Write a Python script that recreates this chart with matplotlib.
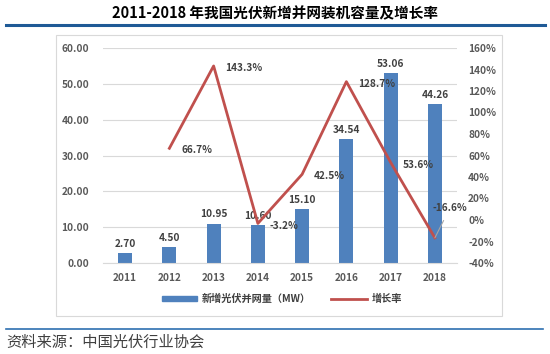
import matplotlib
matplotlib.use("Agg")
import matplotlib.pyplot as plt
from matplotlib.patches import Rectangle
from matplotlib.lines import Line2D
import numpy as np

plt.rcParams['font.family'] = ['Noto Sans CJK SC', 'DejaVu Sans']

years = ['2011', '2012', '2013', '2014', '2015', '2016', '2017', '2018']
capacity = [2.70, 4.50, 10.95, 10.60, 15.10, 34.54, 53.06, 44.26]
growth_years = ['2012', '2013', '2014', '2015', '2016', '2017', '2018']
growth = [66.7, 143.3, -3.2, 42.5, 128.7, 53.6, -16.6]
left_ticks = [0, 10, 20, 30, 40, 50, 60]
right_ticks = [-40, -20, 0, 20, 40, 60, 80, 100, 120, 140, 160]

title = '2011-2018 年我国光伏新增并网装机容量及增长率'
bar_label = '新增光伏并网量（MW）'
line_label = '增长率'
source = '资料来源：中国光伏行业协会'

BLUE = '#4f81bd'
RED = '#c0504d'
TICK = '#595959'

fig = plt.figure(figsize=(5.5, 3.54), dpi=100)
W, H = 550, 354

def fx(x): return x / W
def fy(y): return 1 - y / H

# title and rules
fig.text(0.5, fy(13), title, ha='center', va='center', fontsize=10.5, fontweight='bold', color='black')
fig.add_artist(Line2D([fx(6), fx(545)], [fy(25), fy(25)], color='#1f5a96', lw=2.2))
fig.add_artist(Line2D([fx(6), fx(543)], [fy(329), fy(329)], color='#2e6fb0', lw=1.2))
fig.text(fx(6), fy(342), source, ha='left', va='center', fontsize=11, style='italic', color='#404040')

# chart frame
fig.add_artist(Rectangle((fx(56), fy(316)), fx(502) - fx(56), fy(35) - fy(316),
                         transform=fig.transFigure, fill=False, ec='#d9d9d9', lw=0.8))

ax = fig.add_axes([fx(103), fy(263), fx(457) - fx(103), fy(48) - fy(263)])
x = np.arange(len(years))
ax.bar(x, capacity, width=0.32, color=BLUE, zorder=2)
ax.set_xlim(-0.5, len(years) - 0.5)
ax.set_ylim(0, 60)
ax.set_yticks(left_ticks)
ax.set_yticklabels([f'{v:.2f}' for v in left_ticks])
ax.set_xticks(x)
ax.set_xticklabels(years)
ax.yaxis.grid(True, color='#d9d9d9', lw=0.8, zorder=0)
ax.set_axisbelow(True)
for s in ['top', 'right', 'left']:
    ax.spines[s].set_visible(False)
ax.spines['bottom'].set_color('#d9d9d9')
ax.tick_params(axis='both', length=0, labelsize=7.3, labelcolor=TICK)
ax.tick_params(axis='y', pad=10)
ax.tick_params(axis='x', pad=7)
for lab in ax.get_xticklabels() + ax.get_yticklabels():
    lab.set_fontweight('bold')
for xi, v in zip(x, capacity):
    ax.text(xi, v + 1.2, f'{v:.2f}', ha='center', va='bottom', fontsize=7.3, fontweight='bold', color='#404040')

ax2 = ax.twinx()
gx = [years.index(y) for y in growth_years]
ax2.plot(gx, growth, color=RED, lw=2, zorder=3)
ax2.set_ylim(-40, 160)
ax2.set_yticks(right_ticks)
ax2.set_yticklabels([f'{v}%' for v in right_ticks])
for s in ['top', 'right', 'left', 'bottom']:
    ax2.spines[s].set_visible(False)
ax2.tick_params(axis='y', length=0, labelsize=7.3, labelcolor=TICK, pad=8)
for lab in ax2.get_yticklabels():
    lab.set_fontweight('bold')
for i, (xi, v) in enumerate(zip(gx, growth)):
    if i == len(growth) - 1:
        ax2.annotate(f'{v:.1f}%', xy=(xi, v), xytext=(xi - 0.05, v + 28),
                     ha='left', va='center', fontsize=7.3, fontweight='bold', color='#404040',
                     arrowprops=dict(arrowstyle='-', color='#a6a6a6', lw=0.8,
                                     shrinkA=4, shrinkB=0))
    else:
        ax2.text(xi + 0.27, v - 2, f'{v:.1f}%', ha='left', va='center', fontsize=7.3,
                 fontweight='bold', color='#404040')

# legend
handles = [Rectangle((0, 0), 1, 1, color=BLUE), Line2D([0], [0], color=RED, lw=2)]
leg = fig.legend(handles, [bar_label, line_label], loc='center', bbox_to_anchor=(fx(282), fy(299)),
                 ncol=2, frameon=False, fontsize=7.3, handlelength=3.5, handleheight=0.5,
                 columnspacing=2.0, handletextpad=0.5)
for t in leg.get_texts():
    t.set_fontweight('bold')
    t.set_color('#404040')

fig.savefig('out.png', dpi=100)
